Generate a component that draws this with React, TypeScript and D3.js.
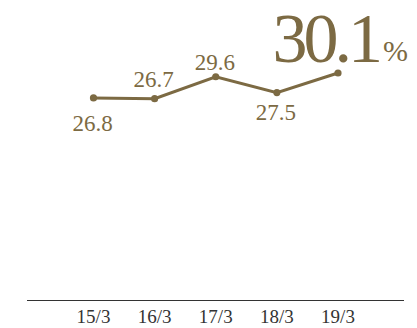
import React from "react";
import * as d3 from "d3";

const categories = ["15/3", "16/3", "17/3", "18/3", "19/3"];
const values = [26.8, 26.7, 29.6, 27.5, 30.1];
const valueLabels = ["26.8", "26.7", "29.6", "27.5", "30.1"];
const unitLabel = "%";

// label placement (layout only)
const labelDy = [33, -12, -7, 27, -11];

const W = 417;
const H = 328;
const COLOR = "#7c6a43";
const FONT = "'Liberation Serif', 'Times New Roman', serif";

export default function App() {
  const x = d3.scalePoint<string>().domain(categories).range([93.5, 338]);
  const y = d3.scaleLinear().domain([0, 30.1]).range([300, 73]);
  const line = d3
    .line<number>()
    .x((_, i) => x(categories[i]) as number)
    .y((d) => y(d));
  const last = values.length - 1;

  return (
    <svg
      width={W}
      height={H}
      style={{ position: "absolute", left: 0, top: 0, background: "#fff" }}
      fontFamily={FONT}
    >
      <line x1={27} x2={404} y1={300.5} y2={300.5} stroke="#333" strokeWidth={1.2} />
      {categories.map((c) => (
        <text
          key={c}
          x={x(c)}
          y={323}
          textAnchor="middle"
          fontSize={19}
          fill="#333"
        >
          {c}
        </text>
      ))}
      <path d={line(values) || ""} fill="none" stroke={COLOR} strokeWidth={3} />
      {values.map((v, i) => (
        <circle key={i} cx={x(categories[i])} cy={y(v)} r={3.6} fill={COLOR} />
      ))}
      {values.map((v, i) =>
        i === last ? null : (
          <text
            key={"l" + i}
            x={(x(categories[i]) as number) - 1}
            y={y(v) + labelDy[i]}
            textAnchor="middle"
            fontSize={23}
            fill={COLOR}
          >
            {valueLabels[i]}
          </text>
        )
      )}
      <text
        x={(x(categories[last]) as number) + 41}
        y={y(values[last]) + labelDy[last]}
        textAnchor="end"
        fontSize={70}
        letterSpacing={-4}
        fill={COLOR}
      >
        {valueLabels[last]}
      </text>
      <text
        x={(x(categories[last]) as number) + 45}
        y={y(values[last]) + labelDy[last] - 1}
        textAnchor="start"
        fontSize={30}
        fill={COLOR}
      >
        {unitLabel}
      </text>
    </svg>
  );
}
